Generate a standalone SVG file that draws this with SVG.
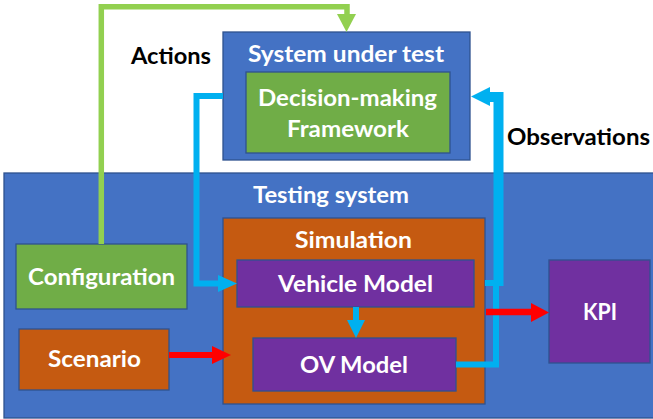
<svg xmlns="http://www.w3.org/2000/svg" width="653" height="419" viewBox="0 0 653 419">
<style>
.box{stroke:#2F528F;stroke-width:1.3}
.blue{fill:#4472C4}
.green{fill:#70AD47}
.orange{fill:#C55A11}
.purple{fill:#7030A0}
.t{font-family:Lato,"Open Sans","Liberation Sans",sans-serif;font-weight:bold;font-size:23px;fill:#FFFFFF}
.k{fill:#000000}
.ln{fill:none;stroke-linejoin:miter}
</style>
<rect width="653" height="419" fill="#FFFFFF"/>
<g id="testing-system">
<rect class="box blue" x="4" y="173" width="665" height="245"/>
<text class="t" x="253" y="203" textLength="156" lengthAdjust="spacingAndGlyphs">Testing system</text>
</g>
<g id="system-under-test">
<rect class="box blue" x="223" y="32" width="247" height="128"/>
<text class="t" x="248" y="62" textLength="196" lengthAdjust="spacingAndGlyphs">System under test</text>
</g>
<g id="decision-making">
<rect class="box green" x="246" y="72" width="204" height="81"/>
<text class="t" x="258" y="106" textLength="179" lengthAdjust="spacingAndGlyphs">Decision-making</text>
<text class="t" x="287" y="137" textLength="122" lengthAdjust="spacingAndGlyphs">Framework</text>
</g>
<g id="configuration">
<rect class="box green" x="16" y="244" width="171" height="65"/>
<text class="t" x="28" y="285" textLength="147" lengthAdjust="spacingAndGlyphs">Configuration</text>
</g>
<g id="scenario">
<rect class="box orange" x="19" y="329" width="150" height="61"/>
<text class="t" x="48" y="367" textLength="93" lengthAdjust="spacingAndGlyphs">Scenario</text>
</g>
<g id="simulation">
<rect class="box orange" x="223" y="218" width="262" height="186"/>
<text class="t" x="295" y="248" textLength="117" lengthAdjust="spacingAndGlyphs">Simulation</text>
</g>
<g id="vehicle-model">
<rect class="box purple" x="237" y="260" width="237" height="47"/>
<text class="t" x="278" y="292" textLength="155" lengthAdjust="spacingAndGlyphs">Vehicle Model</text>
</g>
<g id="ov-model">
<rect class="box purple" x="253" y="338" width="203" height="53"/>
<text class="t" x="300" y="373" textLength="108" lengthAdjust="spacingAndGlyphs">OV Model</text>
</g>
<g id="kpi">
<rect class="box purple" x="549" y="260" width="101" height="103"/>
<text class="t" x="583" y="320" textLength="34" lengthAdjust="spacingAndGlyphs">KPI</text>
</g>
<g id="connectors">
<path class="ln" d="M101.3 244 V6.7 H347 V15" stroke="#92D050" stroke-width="5.5"/>
<polygon points="337,14 356,14 346.5,32" fill="#92D050"/>
<path class="ln" d="M223 96 H196.5 V283.5 H219" stroke="#00B0F0" stroke-width="6"/>
<polygon points="218,275 237,283.5 218,292" fill="#00B0F0"/>
<path class="ln" d="M356 307 V321" stroke="#00B0F0" stroke-width="6"/>
<polygon points="347,320 365,320 356,338" fill="#00B0F0"/>
<path class="ln" d="M456 364.5 H496 V283" stroke="#00B0F0" stroke-width="6"/>
<path class="ln" d="M485 283 H503" stroke="#00B0F0" stroke-width="6"/>
<path class="ln" d="M498.5 286 V97 H488" stroke="#00B0F0" stroke-width="10"/>
<polygon points="471,96.5 490,87 490,106" fill="#00B0F0"/>
<path class="ln" d="M169 355 H213" stroke="#FF0000" stroke-width="6"/>
<polygon points="212,346 231,355 212,364" fill="#FF0000"/>
<path class="ln" d="M486 312 H532" stroke="#FF0000" stroke-width="6.5"/>
<polygon points="531,303 549,312.5 531,322" fill="#FF0000"/>
</g>
<g id="labels">
<text class="t k" x="131" y="64" textLength="80" lengthAdjust="spacingAndGlyphs">Actions</text>
<text class="t k" x="507" y="145" textLength="143" lengthAdjust="spacingAndGlyphs">Observations</text>
</g>
</svg>
